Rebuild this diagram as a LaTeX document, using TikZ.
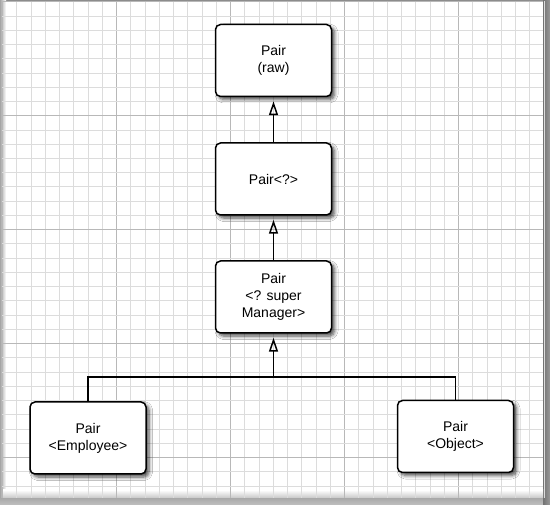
\documentclass[tikz,border=0pt]{standalone}
\usepackage{fontspec}
\setmainfont{Liberation Sans}
\usetikzlibrary{arrows.meta,shadows.blur}
\definecolor{minorgrid}{HTML}{DCDCDC}
\definecolor{majorgrid}{HTML}{B8B8B8}
\tikzset{
  box/.style={draw=black, line width=1.5pt, fill=white, rounded corners=5pt,
    minimum width=116pt, minimum height=72pt, align=center,
    font=\fontsize{14}{17}\selectfont,
    blur shadow={shadow xshift=3pt, shadow yshift=-3pt, shadow blur steps=6,
      shadow blur radius=3.5pt, shadow opacity=70}},
  conn/.style={line width=1.5pt, draw=black},
  inherit/.style={conn, -{Triangle[open, length=14pt, width=9pt, line width=1.5pt]}, shorten >=4pt},
}
\begin{document}
\begin{tikzpicture}[x=1pt, y=-1pt]
\useasboundingbox (0,0) rectangle (550,505);
% outer frame / page shadow
\fill[black!45] (0,0) rectangle (550,505);
\shade[top color=black!35, bottom color=black!25] (0,497) rectangle (550,505);
\shade[left color=black!55, right color=black!40] (543,0) rectangle (550,505);
\fill[white] (2,1) rectangle (543,498);
\shade[left color=black!35, right color=white] (0,1) rectangle (6,498);
\shade[top color=white, bottom color=black!22] (2,490) rectangle (543,498);
% grid
\foreach \k in {0,...,38}{
  \pgfmathsetmacro{\xx}{2.5+14.25*\k}
  \pgfmathtruncatemacro{\m}{mod(\k,8)}
  \ifnum\m=0
    \draw[majorgrid, line width=1.3pt] (\xx,1) -- (\xx,498);
  \else
    \draw[minorgrid, line width=0.9pt] (\xx,1) -- (\xx,498);
  \fi
}
\foreach \k in {0,...,34}{
  \pgfmathsetmacro{\yy}{1.8+14.24*\k}
  \pgfmathtruncatemacro{\m}{mod(\k,8)}
  \ifnum\m=0
    \draw[majorgrid, line width=1.3pt] (2,\yy) -- (543,\yy);
  \else
    \draw[minorgrid, line width=0.9pt] (2,\yy) -- (543,\yy);
  \fi
}
% boxes
\node[box] (raw) at (273.5,60.5) {Pair\\(raw)};
\node[box] (wild) at (273.5,179) {Pair<?>};
\node[box] (sup) at (273.5,297) {Pair\\<? super\\Manager>};
\node[box] (emp) at (88,438) {Pair\\<Employee>};
\node[box] (obj) at (455.5,436.5) {Pair\\<Object>};
% connectors
\coordinate (join) at (273.5,377);
\draw[inherit] (wild.north) -- (raw.south);
\draw[inherit] (sup.north) -- (wild.south);
\draw[conn] (emp.north) |- (join) -| (obj.north);
\draw[inherit] (join) -- (sup.south);
\end{tikzpicture}
\end{document}
